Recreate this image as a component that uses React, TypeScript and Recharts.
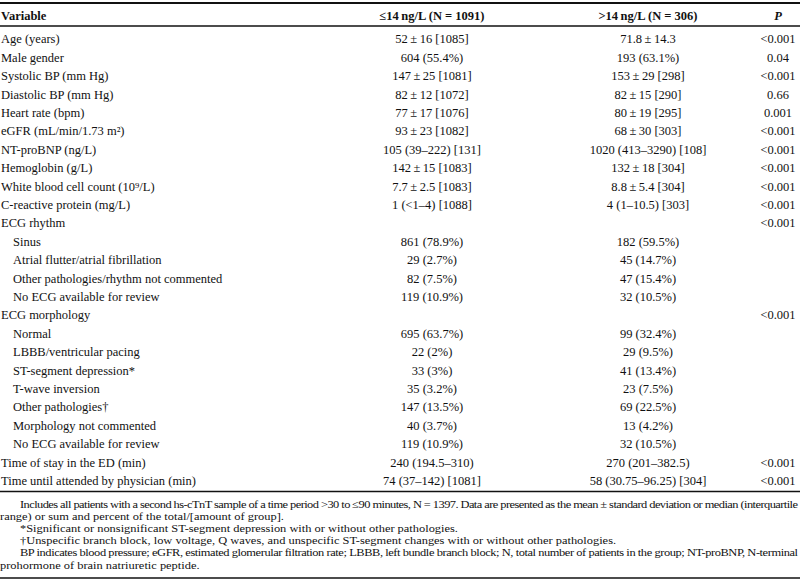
import { Surface, Text } from "recharts";

const headers = ["Variable", "≤14\u2009ng/L (N = 1091)", ">14\u2009ng/L (N = 306)", "P"];

const variables = [
  "Age (years)", "Male gender", "Systolic BP (mm Hg)", "Diastolic BP (mm Hg)", "Heart rate (bpm)",
  "eGFR (mL/min/1.73 m²)", "NT-proBNP (ng/L)", "Hemoglobin (g/L)", "White blood cell count (10⁹/L)",
  "C-reactive protein (mg/L)", "ECG rhythm", "Sinus", "Atrial flutter/atrial fibrillation",
  "Other pathologies/rhythm not commented", "No ECG available for review", "ECG morphology", "Normal",
  "LBBB/ventricular pacing", "ST-segment depression*", "T-wave inversion", "Other pathologies†",
  "Morphology not commented", "No ECG available for review", "Time of stay in the ED (min)",
  "Time until attended by physician (min)",
];

const indented = [false, false, false, false, false, false, false, false, false, false, false, true, true, true, true,
  false, true, true, true, true, true, true, true, false, false];

const lowGroup = [
  "52\u2009±\u200916 [1085]", "604 (55.4%)", "147\u2009±\u200925 [1081]", "82\u2009±\u200912 [1072]", "77\u2009±\u200917 [1076]",
  "93\u2009±\u200923 [1082]", "105 (39–222) [131]", "142\u2009±\u200915 [1083]", "7.7\u2009±\u20092.5 [1083]", "1 (<1–4) [1088]",
  "", "861 (78.9%)", "29 (2.7%)", "82 (7.5%)", "119 (10.9%)", "", "695 (63.7%)", "22 (2%)", "33 (3%)", "35 (3.2%)",
  "147 (13.5%)", "40 (3.7%)", "119 (10.9%)", "240 (194.5–310)", "74 (37–142) [1081]",
];

const highGroup = [
  "71.8\u2009±\u200914.3", "193 (63.1%)", "153\u2009±\u200929 [298]", "82\u2009±\u200915 [290]", "80\u2009±\u200919 [295]",
  "68\u2009±\u200930 [303]", "1020 (413–3290) [108]", "132\u2009±\u200918 [304]", "8.8\u2009±\u20095.4 [304]", "4 (1–10.5) [303]",
  "", "182 (59.5%)", "45 (14.7%)", "47 (15.4%)", "32 (10.5%)", "", "99 (32.4%)", "29 (9.5%)", "41 (13.4%)", "23 (7.5%)",
  "69 (22.5%)", "13 (4.2%)", "32 (10.5%)", "270 (201–382.5)", "58 (30.75–96.25) [304]",
];

const pValues = [
  "<0.001", "0.04", "<0.001", "0.66", "0.001", "<0.001", "<0.001", "<0.001", "<0.001", "<0.001", "<0.001",
  "", "", "", "", "<0.001", "", "", "", "", "", "", "", "<0.001", "<0.001",
];

const footnotes = [
  { text: "Includes all patients with a second hs-cTnT sample of a time period >30 to ≤90 minutes, N = 1397. Data are presented as the mean ± standard deviation or median (interquartile", indent: true, justify: true },
  { text: "range) or sum and percent of the total/[amount of group].", indent: false, justify: false },
  { text: "*Significant or nonsignificant ST-segment depression with or without other pathologies.", indent: true, justify: false },
  { text: "†Unspecific branch block, low voltage, Q waves, and unspecific ST-segment changes with or without other pathologies.", indent: true, justify: false },
  { text: "BP indicates blood pressure; eGFR, estimated glomerular filtration rate; LBBB, left bundle branch block; N, total number of patients in the group; NT-proBNP, N-terminal", indent: true, justify: true },
  { text: "prohormone of brain natriuretic peptide.", indent: false, justify: false },
];

const W = 800;
const H = 584;
const FONT = "'Liberation Serif', 'Times New Roman', serif";
const colX = [1, 432, 648, 778];
const headY = 16;
const rowY0 = 39;
const rowH = 18.4;
const noteY0 = 505;
const noteH = 12.2;
const noteStretch = 1.14;

const App = () => {
  const lastRowY = rowY0 + rowH * (variables.length - 1);
  return (
    <div style={{ position: "absolute", left: 0, top: 0, width: W, height: H, background: "#fff" }}>
      <Surface width={W} height={H}>
        <line x1={0} x2={W} y1={3} y2={3} stroke="#111" strokeWidth={2} />
        <line x1={0} x2={W} y1={26} y2={26} stroke="#111" strokeWidth={1.5} />
        <line x1={0} x2={W} y1={lastRowY + 11} y2={lastRowY + 11} stroke="#111" strokeWidth={1.5} />
        <line x1={0} x2={W} y1={578} y2={578} stroke="#111" strokeWidth={1.5} />

        {headers.map((h, i) => (
          <Text
            key={h}
            x={colX[i]}
            y={headY}
            textAnchor={i === 0 ? "start" : "middle"}
            verticalAnchor="middle"
            fontFamily={FONT}
            fontSize={12.5}
            fontWeight="bold"
            fontStyle={i === 3 ? "italic" : "normal"}
            fill="#111"
          >
            {h}
          </Text>
        ))}

        {variables.map((v, i) => {
          const y = rowY0 + rowH * i;
          return (
            <g key={i}>
              <Text x={indented[i] ? 13 : colX[0]} y={y} verticalAnchor="middle" fontFamily={FONT} fontSize={12.5} fill="#111">
                {v}
              </Text>
              {lowGroup[i] && (
                <Text x={colX[1]} y={y} textAnchor="middle" verticalAnchor="middle" fontFamily={FONT} fontSize={12.5} fill="#111">
                  {lowGroup[i]}
                </Text>
              )}
              {highGroup[i] && (
                <Text x={colX[2]} y={y} textAnchor="middle" verticalAnchor="middle" fontFamily={FONT} fontSize={12.5} fill="#111">
                  {highGroup[i]}
                </Text>
              )}
              {pValues[i] && (
                <Text x={colX[3]} y={y} textAnchor="middle" verticalAnchor="middle" fontFamily={FONT} fontSize={12.5} fill="#111">
                  {pValues[i]}
                </Text>
              )}
            </g>
          );
        })}

        {footnotes.map((f, i) => {
          const x = f.indent ? 20 : 0;
          return (
            <text
              key={i}
              transform={`translate(${x},${noteY0 + noteH * i}) scale(${noteStretch},1)`}
              x={0}
              y={0}
              dominantBaseline="middle"
              fontFamily={FONT}
              fontSize={10.9}
              fill="#111"
              {...(f.justify ? { textLength: (798 - x) / noteStretch, lengthAdjust: "spacing" } : {})}
            >
              {f.text}
            </text>
          );
        })}
      </Surface>
    </div>
  );
};

export default App;
